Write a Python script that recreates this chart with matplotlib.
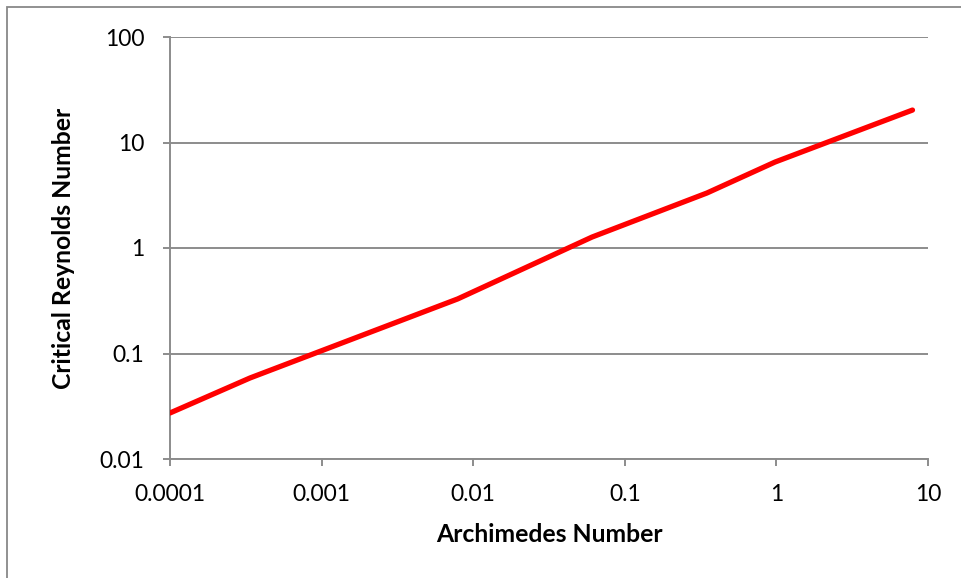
import matplotlib
matplotlib.use("Agg")
import matplotlib.pyplot as plt
from matplotlib.ticker import FixedLocator, FixedFormatter, NullLocator
from matplotlib.patches import Rectangle

# Archimedes number vs critical Reynolds number
ar = [0.0001, 0.000337, 0.0079, 0.0608, 0.348, 0.98, 7.9]
re_crit = [0.0273, 0.0586, 0.329, 1.27, 3.32, 6.53, 20.3]

x_ticks = [0.0001, 0.001, 0.01, 0.1, 1, 10]
x_labels = ["0.0001", "0.001", "0.01", "0.1", "1", "10"]
y_ticks = [0.01, 0.1, 1, 10, 100]
y_labels = ["0.01", "0.1", "1", "10", "100"]

plt.rcParams['font.family'] = ['Lato', 'DejaVu Sans']
grid_col = "#8c8c8c"

fig = plt.figure(figsize=(9.61, 5.78), dpi=100)
ax = fig.add_axes([170/961, 1-459/578, (928-170)/961, (459-37)/578])

ax.plot(ar, re_crit, color="#ff0000", lw=3.8, solid_capstyle="round", zorder=3)

ax.set_xscale("log")
ax.set_yscale("log")
ax.set_xlim(1e-4, 10)
ax.set_ylim(0.01, 100)

ax.xaxis.set_major_locator(FixedLocator(x_ticks))
ax.xaxis.set_major_formatter(FixedFormatter(x_labels))
ax.yaxis.set_major_locator(FixedLocator(y_ticks))
ax.yaxis.set_major_formatter(FixedFormatter(y_labels))
ax.xaxis.set_minor_locator(NullLocator())
ax.yaxis.set_minor_locator(NullLocator())

ax.grid(axis="y", color=grid_col, lw=1.4)
for s in ["top", "right"]:
    ax.spines[s].set_visible(False)
for s in ["left", "bottom"]:
    ax.spines[s].set_color(grid_col)
    ax.spines[s].set_linewidth(1.4)
ax.tick_params(axis="both", colors=grid_col, length=5, width=1.4, labelsize=16.5,
               labelcolor="black")
ax.tick_params(axis="x", pad=13)
ax.tick_params(axis="y", pad=13.5)

ax.set_xlabel("Archimedes Number", fontsize=17.8, fontweight="bold", va="center")
ax.set_ylabel("Critical Reynolds Number", fontsize=17.8, fontweight="bold", va="center")
ax.xaxis.set_label_coords(0.5, (459 - 534) / 422)
ax.yaxis.set_label_coords((63 - 170) / 758, 0.5)

# outer chart border
fig.patches.append(Rectangle((7/961, -0.1), 1.2, 1 - 7/578 + 0.1, transform=fig.transFigure,
                             fill=False, edgecolor="#888888", lw=1.3))

fig.savefig("out.png", dpi=100)
